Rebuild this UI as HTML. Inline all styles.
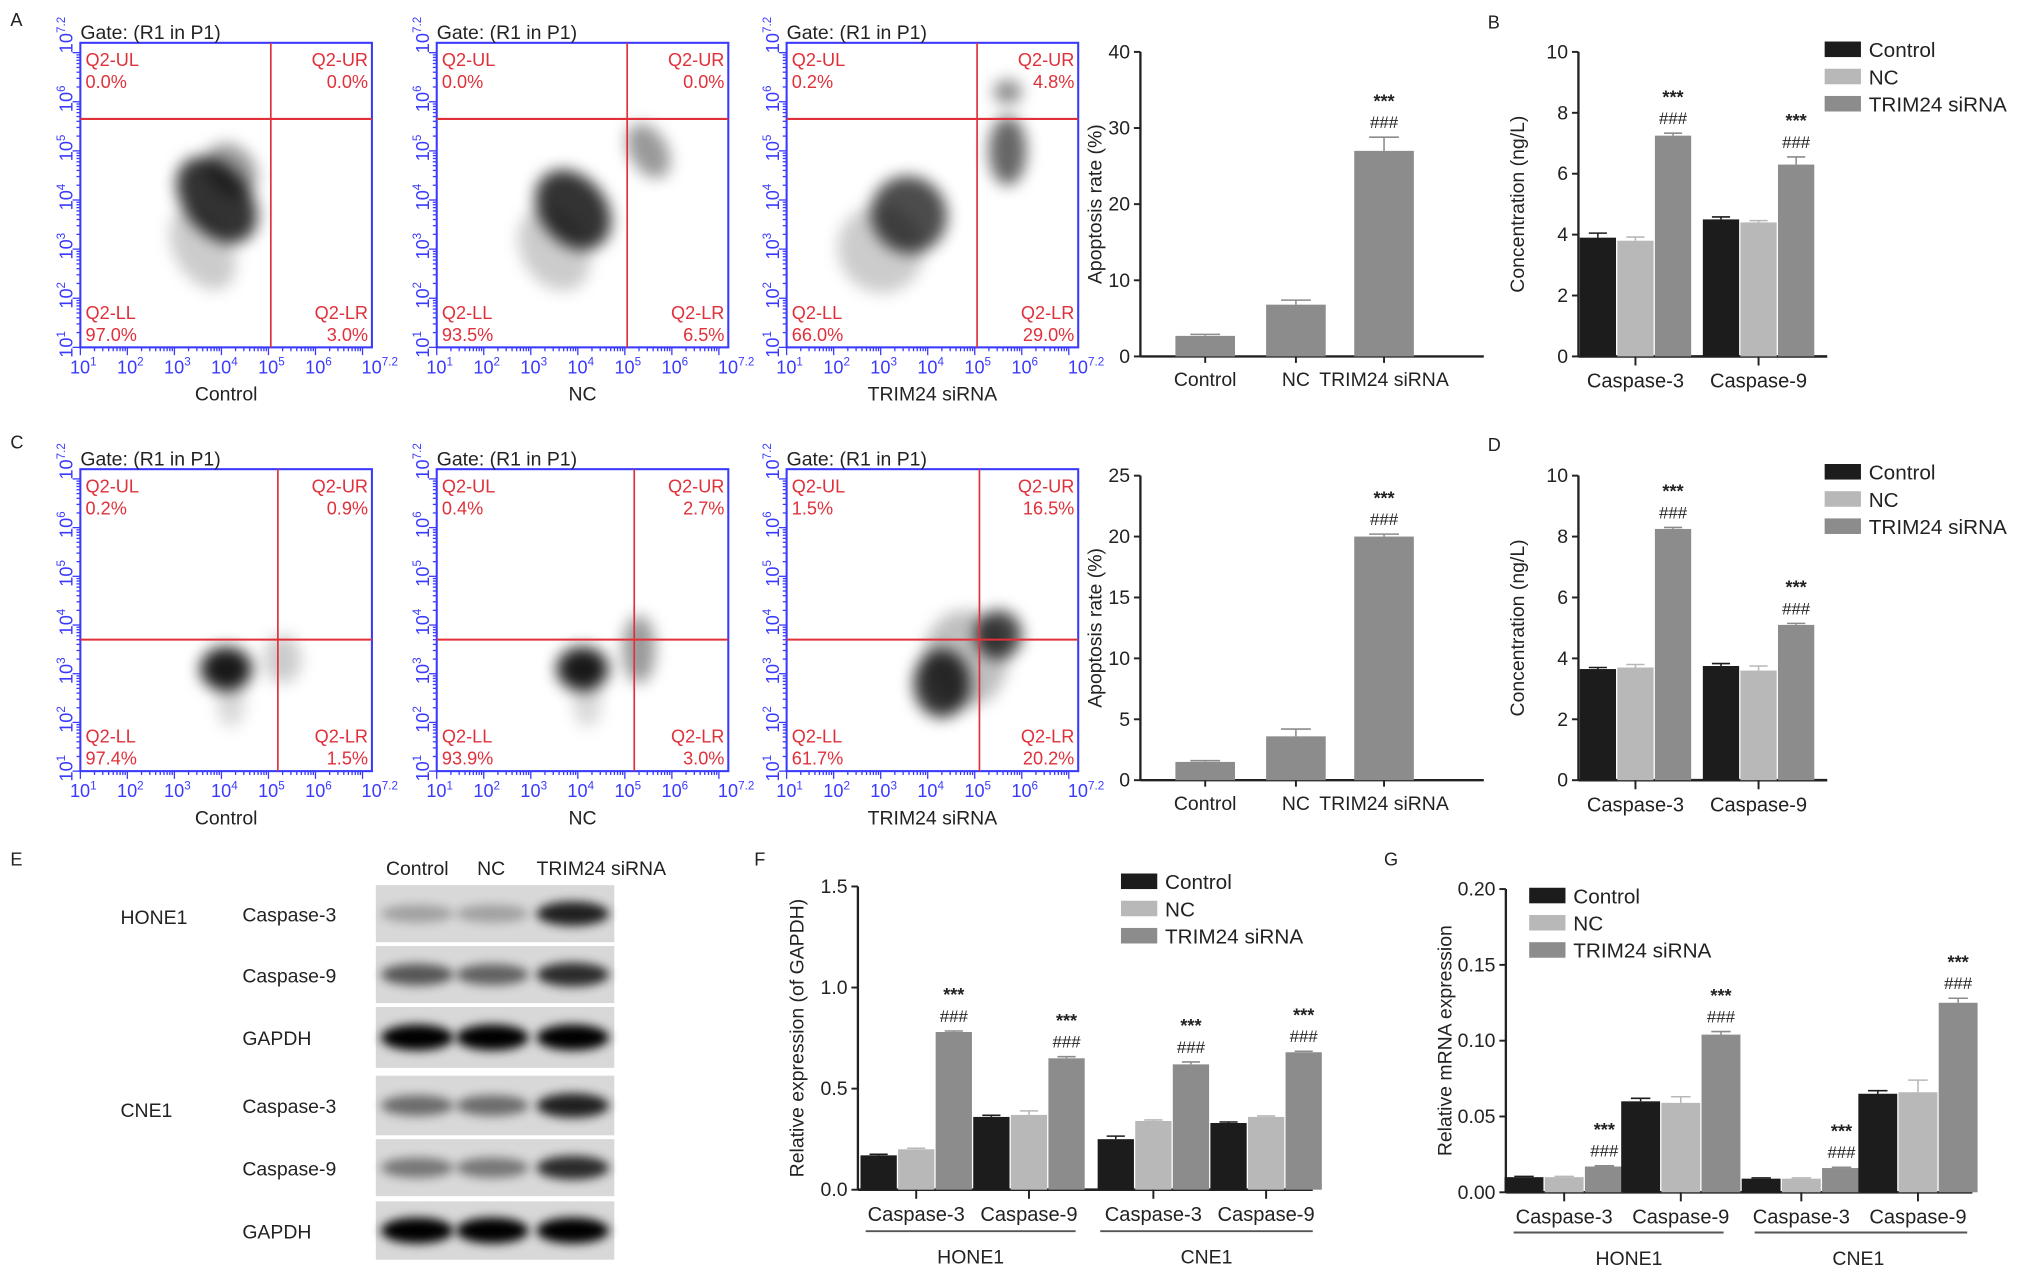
<!DOCTYPE html>
<html><head><meta charset="utf-8"><style>
html,body{margin:0;padding:0;background:#fff}
svg{display:block;font-family:"Liberation Sans",sans-serif}
</style></head><body>
<svg id="fig" width="2032" height="1274" viewBox="0 0 1568 983" xmlns="http://www.w3.org/2000/svg">
<defs><filter id="blur" x="-50%" y="-50%" width="200%" height="200%"><feGaussianBlur stdDeviation="6"/></filter>
<filter id="bblur" x="-50%" y="-50%" width="200%" height="200%"><feGaussianBlur stdDeviation="4"/></filter></defs>
<g id="root"></g>
</svg>
<script>
// ---------- data ----------
const groupNames = ["Control","NC","TRIM24 siRNA"];
const apoA = [2.7, 6.8, 27.0];
const apoAErr = [0.2, 0.6, 1.8];
const apoC = [1.5, 3.6, 20.0];
const apoCErr = [0.1, 0.6, 0.2];
const casps = ["Caspase-3","Caspase-9"];
const concB = [[3.9,3.8,7.25],[4.5,4.4,6.3]];
const concBErr = [[0.15,0.12,0.08],[0.08,0.06,0.25]];
const concD = [[3.65,3.7,8.25],[3.75,3.6,5.1]];
const concDErr = [[0.05,0.1,0.05],[0.08,0.15,0.05]];
const fCats = ["Caspase-3","Caspase-9","Caspase-3","Caspase-9"];
const relF = [[0.17,0.20,0.78],[0.36,0.37,0.65],[0.25,0.34,0.62],[0.33,0.36,0.68]];
const relFErr = [[0.005,0.005,0.005],[0.008,0.02,0.008],[0.015,0.005,0.012],[0.005,0.005,0.005]];
const relG = [[0.010,0.010,0.017],[0.060,0.059,0.104],[0.009,0.009,0.016],[0.065,0.066,0.125]];
const relGErr = [[0.0005,0.0005,0.0005],[0.002,0.004,0.002],[0.0005,0.0005,0.0005],[0.002,0.008,0.003]];
const flowQuadA = [["0.0%","0.0%","97.0%","3.0%"],["0.0%","0.0%","93.5%","6.5%"],["0.2%","4.8%","66.0%","29.0%"]];
const flowQuadC = [["0.2%","0.9%","97.4%","1.5%"],["0.4%","2.7%","93.9%","3.0%"],["1.5%","16.5%","61.7%","20.2%"]];
const gateA = [[5.05,5.65],[5.05,5.65],[5.05,5.65]];
const gateC = [[5.2,3.7],[5.2,3.7],[5.1,3.7]];
const cloudsA = [[[3.9,4.0,0.7,1.0,-40,0.8],[4.2,4.6,0.5,0.6,-40,0.4],[3.6,3.0,0.6,0.9,-30,0.2]],
 [[3.9,3.8,0.7,0.9,-40,0.8],[5.5,5.0,0.4,0.6,-30,0.4],[3.5,3.0,0.7,0.9,-30,0.2]],
 [[3.6,3.7,0.8,0.8,-35,0.7],[5.7,5.0,0.4,0.7,0,0.6],[5.7,6.2,0.3,0.25,0,0.45],[3.0,3.0,0.9,0.9,-30,0.2]]];
const cloudsC = [[[4.1,3.1,0.55,0.45,0,0.9],[5.3,3.3,0.4,0.5,0,0.2],[4.2,2.4,0.3,0.5,0,0.15]],
 [[4.1,3.1,0.55,0.45,0,0.9],[5.3,3.5,0.35,0.7,0,0.4],[4.2,2.4,0.3,0.5,0,0.15]],
 [[4.3,2.8,0.6,0.7,0,0.8],[5.5,3.8,0.5,0.5,0,0.75],[4.8,3.3,0.9,1.0,0,0.25]]];

// ---------- helpers ----------
const NS="http://www.w3.org/2000/svg";
const root=document.getElementById('root');
function el(tag,attrs,parent,text){const e=document.createElementNS(NS,tag);for(const k in attrs)e.setAttribute(k,attrs[k]);if(text!==undefined)e.textContent=text;(parent||root).appendChild(e);return e;}
function txt(x,y,s,size,opts,parent){const o=Object.assign({x:x,y:y,'font-size':size,fill:'#222'},opts||{});return el('text',o,parent,s);}
const COLORS=['#1c1c1c','#b8b8b8','#8c8c8c'];

function panelLetter(x,y,s){const t=txt(x,y,s,14,{});}

function flowPlot(x0,y0,w,h,gate,quad,clouds,label,name){
  const g=el('g',{});
  const sx=v=>x0+(v-1)/6.2*w, sy=v=>y0+h-(v-1)/6.2*h;
  const cg=el('g',{filter:'url(#blur)'},g);
  clouds.forEach(c=>{const e=el('ellipse',{cx:sx(c[0]),cy:sy(c[1]),rx:c[2]/6.2*w,ry:c[3]/6.2*h,fill:'#000',opacity:c[5],transform:`rotate(${c[4]} ${sx(c[0])} ${sy(c[1])})`},cg);});
  el('rect',{x:x0,y:y0,width:w,height:h,fill:'none',stroke:'#3a3aff','stroke-width':1.6},g);
  el('line',{x1:sx(gate[0]),x2:sx(gate[0]),y1:y0,y2:y0+h,stroke:'#e0303a','stroke-width':1.3},g);
  el('line',{x1:x0,x2:x0+w,y1:sy(gate[1]),y2:sy(gate[1]),stroke:'#e0303a','stroke-width':1.6},g);
  for(let d=1;d<=7;d++){for(let m=1;m<10;m++){const v=d+Math.log10(m);if(v>7.2)break;const L=m==1?6:3;
    el('line',{x1:sx(v),x2:sx(v),y1:y0+h,y2:y0+h+L,stroke:'#3a3aff','stroke-width':1},g);
    el('line',{x1:x0,x2:x0-L,y1:sy(v),y2:sy(v),stroke:'#3a3aff','stroke-width':1},g);}}
  [1,2,3,4,5,6,7.2].forEach(v=>{const t=el('text',{x:sx(v)-8,y:y0+h+20,'font-size':14,fill:'#3a3aff'},g);t.textContent='10';el('tspan',{dy:-6,'font-size':9},t,String(v));
    const ty=el('text',{transform:`translate(${x0-6},${sy(v)+8}) rotate(-90)`,'font-size':14,fill:'#3a3aff'},g);ty.textContent='10';el('tspan',{dy:-6,'font-size':9},ty,String(v));});
  txt(x0,y0-3,'Gate: (R1 in P1)',15,{},g);
  const red={fill:'#e0303a'};
  txt(x0+4,y0+18,'Q2-UL',14,red,g);txt(x0+4,y0+35,quad[0],14,red,g);
  txt(x0+w-3,y0+18,'Q2-UR',14,Object.assign({'text-anchor':'end'},red),g);txt(x0+w-3,y0+35,quad[1],14,Object.assign({'text-anchor':'end'},red),g);
  txt(x0+4,y0+h-22,'Q2-LL',14,red,g);txt(x0+4,y0+h-5,quad[2],14,red,g);
  txt(x0+w-3,y0+h-22,'Q2-LR',14,Object.assign({'text-anchor':'end'},red),g);txt(x0+w-3,y0+h-5,quad[3],14,Object.assign({'text-anchor':'end'},red),g);
  txt(x0+w/2,y0+h+41,label,15,{'text-anchor':'middle'},g);
}

function yAxis(g,ax,top,bot,max,ticks,fmt,title,toff){
  const sy=v=>bot-(v/max)*(bot-top);
  el('line',{x1:ax,x2:ax,y1:top,y2:bot,stroke:'#222','stroke-width':1.8},g);
  ticks.forEach(t=>{el('line',{x1:ax-5,x2:ax,y1:sy(t),y2:sy(t),stroke:'#222','stroke-width':1.5},g);txt(ax-8,sy(t)+5,fmt(t),15,{'text-anchor':'end'},g);});
  const tt=el('text',{transform:`translate(${ax-toff},${(top+bot)/2}) rotate(-90)`,'font-size':15,'text-anchor':'middle',fill:'#222'},g,title);
  
  return sy;
}
function stars(g,x,y){txt(x,y-20,'***',14,{'text-anchor':'middle','font-weight':'bold'},g);txt(x,y-4,'###',13,{'text-anchor':'middle'},g);}
function bar(g,x,w,v,e,sy,color,bot,name,sig){
  const r=el('rect',{x:x-w/2,y:sy(v),width:w,height:bot-sy(v),fill:color},g);
  
  el('line',{x1:x,x2:x,y1:sy(v),y2:sy(v+e),stroke:color,'stroke-width':1.2},g);
  el('line',{x1:x-w/4,x2:x+w/4,y1:sy(v+e),y2:sy(v+e),stroke:color,'stroke-width':1.2},g);
  if(sig)stars(g,x,sy(v+e)-3);
}
function legend(g,x,y,dy){groupNames.forEach((n,i)=>{const r=el('rect',{x:x,y:y+i*dy-6,width:28,height:12,fill:COLORS[i]},g);txt(x+34,y+i*dy+6,n,16,{},g);});}

function simpleBar(ax,top,bot,max,ticks,vals,errs,centers,name){
  const g=el('g',{});
  const sy=yAxis(g,ax,top,bot,max,ticks,t=>String(t),'Apoptosis rate (%)',30);
  el('line',{x1:ax,x2:ax+265,y1:bot,y2:bot,stroke:'#222','stroke-width':1.8},g);
  vals.forEach((v,i)=>{bar(g,centers[i],46,v,errs[i],sy,'#8c8c8c',bot,'bar-'+i,i==2);
    el('line',{x1:centers[i],x2:centers[i],y1:bot,y2:bot+5,stroke:'#222','stroke-width':1.5},g);
    txt(centers[i],bot+23,groupNames[i],15,{'text-anchor':'middle'},g);});
}
function groupBar(ax,axEnd,top,bot,max,ticks,fmt,title,cats,vals,errs,centers,bw,name){
  const g=el('g',{});
  const sy=yAxis(g,ax,top,bot,max,ticks,fmt,title,42);
  el('line',{x1:ax,x2:axEnd,y1:bot,y2:bot,stroke:'#222','stroke-width':2},g);
  cats.forEach((c,gi)=>{const cx=centers[gi];
    vals[gi].forEach((v,i)=>bar(g,cx+(i-1)*(bw+1),bw,v,errs[gi][i],sy,COLORS[i],bot,'bar-'+gi+'-'+i,i==2));
    el('line',{x1:cx,x2:cx,y1:bot,y2:bot+7,stroke:'#222','stroke-width':1.5},g);
    txt(cx,bot+24,c,15.5,{'text-anchor':'middle'},g);});
  return g;
}

// ---------- Panel A ----------
panelLetter(8,20,'A');
[62,337,607].forEach((x,i)=>flowPlot(x,33,225,235,gateA[i],flowQuadA[i],cloudsA[i],groupNames[i],'flow-plot-a-'+i));
simpleBar(880,40,275,40,[0,10,20,30,40],apoA,apoAErr,[930,1000,1068],'apoptosis-chart-a');
panelLetter(1148,22,'B');
let gB=groupBar(1218,1410,40,275,10,[0,2,4,6,8,10],t=>String(t),'Concentration (ng/L)',casps,concB,concBErr,[1262,1357],28,'concentration-chart-b');
legend(gB,1408,38,21);
panelLetter(8,346,'C');
[62,337,607].forEach((x,i)=>flowPlot(x,362,225,233,gateC[i],flowQuadC[i],cloudsC[i],groupNames[i],'flow-plot-c-'+i));
simpleBar(880,367,602,25,[0,5,10,15,20,25],apoC,apoCErr,[930,1000,1068],'apoptosis-chart-c');
panelLetter(1148,348,'D');
let gD=groupBar(1218,1410,367,602,10,[0,2,4,6,8,10],t=>String(t),'Concentration (ng/L)',casps,concD,concDErr,[1262,1357],28,'concentration-chart-d');
legend(gD,1408,364,21);

// ---------- Panel E ----------
panelLetter(8,668,'E');
(function(){const g=el('g',{});
  ['Control','NC','TRIM24 siRNA'].forEach((n,i)=>txt([322,379,464][i],675,n,15,{'text-anchor':'middle'},g));
  txt(93,713,'HONE1',15,{},g);txt(93,862,'CNE1',15,{},g);
  const rows=[[683,44,'Caspase-3',[0.25,0.25,0.85]],[730,44,'Caspase-9',[0.6,0.55,0.8]],[777,47,'GAPDH',[1,1,1]],[830,46,'Caspase-3',[0.5,0.5,0.85]],[879,44,'Caspase-9',[0.45,0.45,0.8]],[927,45,'GAPDH',[1,1,1]]];
  rows.forEach(r=>{el('rect',{x:290,y:r[0],width:184,height:r[1],fill:'#d8d8d8'},g);
    txt(187,r[0]+r[1]/2+6,r[2],15,{},g);
    [322,380,442].forEach((cx,i)=>{const b=el('ellipse',{cx:cx,cy:r[0]+r[1]/2,rx:28,ry:6+4*r[3][i],fill:'#000',opacity:r[3][i],filter:'url(#bblur)'},g);});});
})();

// ---------- Panel F ----------
panelLetter(582,668,'F');
let gF=groupBar(662,1013,684,918,1.5,[0,0.5,1.0,1.5],t=>t.toFixed(1),'Relative expression (of GAPDH)',fCats,relF,relFErr,[707,794,890,977],28,'relative-expression-chart-f');
legend(gF,865,680,21);
el('line',{x1:668,x2:830,y1:950,y2:950,stroke:'#555','stroke-width':1.5},gF);txt(749,975,'HONE1',15,{'text-anchor':'middle'},gF);
el('line',{x1:849,x2:1013,y1:950,y2:950,stroke:'#555','stroke-width':1.5},gF);txt(931,975,'CNE1',15,{'text-anchor':'middle'},gF);
// ---------- Panel G ----------
panelLetter(1068,668,'G');
let gG=groupBar(1162,1522,686,920,0.2,[0,0.05,0.1,0.15,0.2],t=>t.toFixed(2),'Relative mRNA expression',fCats,relG,relGErr,[1207,1297,1390,1480],30,'mrna-expression-chart-g');
legend(gG,1180,691,21);
el('line',{x1:1168,x2:1330,y1:951,y2:951,stroke:'#555','stroke-width':1.5},gG);txt(1257,976,'HONE1',15,{'text-anchor':'middle'},gG);
el('line',{x1:1354,x2:1518,y1:951,y2:951,stroke:'#555','stroke-width':1.5},gG);txt(1434,976,'CNE1',15,{'text-anchor':'middle'},gG);
</script>
</body></html>
